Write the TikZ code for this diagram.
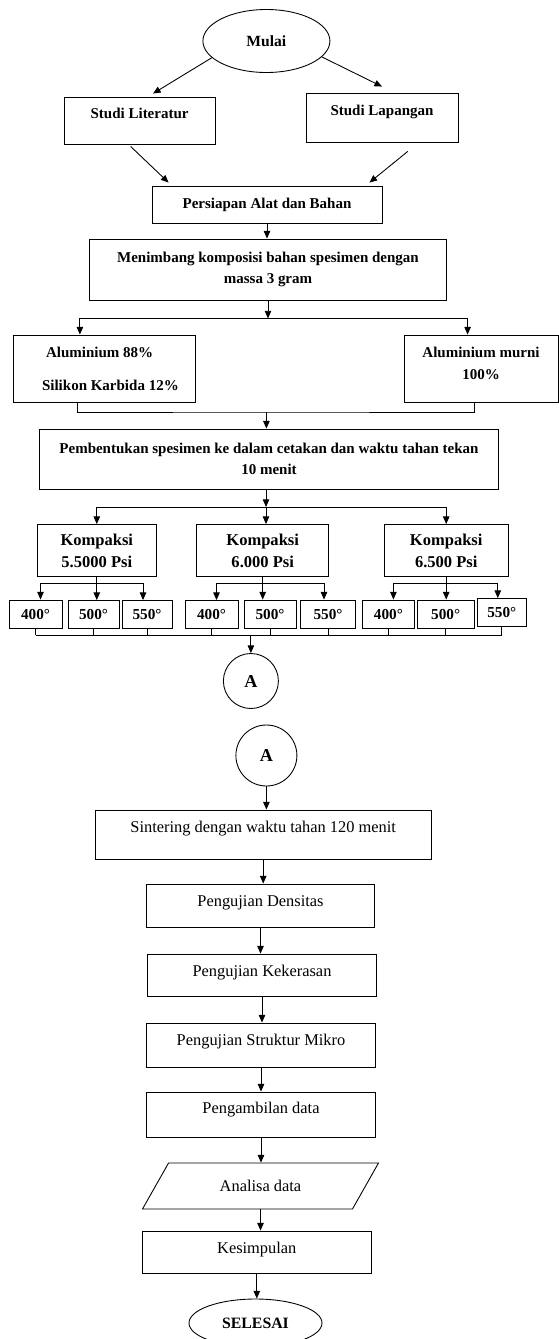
\documentclass[tikz,border=0pt]{standalone}
\usepackage{fontspec}
\setmainfont{Liberation Serif}
\usepackage{tikz}
\usetikzlibrary{positioning,calc,shapes,arrows.meta}
\newcommand{\pxu}{0.03cm}

\begin{document}
\begin{tikzpicture}[x=0.03cm, y=-0.03cm, line width=0.75pt,
	kotak/.style 2 args={draw, rectangle, minimum width=#1*\pxu, minimum height=#2*\pxu, inner sep=0pt, align=center},
	tebal/.style={font=\fontsize{12.8}{18.5}\selectfont\bfseries},
	biasa/.style={font=\fontsize{14}{16}\selectfont},
	suhu/.style={kotak={#1}{28}, font=\fontsize{13}{14}\selectfont\bfseries},
	kompaksi/.style={kotak={#1}{52}, font=\fontsize{14.1}{18.8}\selectfont\bfseries},
	panah/.style={-{Triangle[length=6.5pt,width=5.5pt]}}]
	\useasboundingbox (0,0) rectangle (559,1339);

	\node[ellipse, draw, minimum width=127*\pxu, minimum height=63*\pxu, inner sep=0pt, font=\fontsize{13.3}{16}\selectfont\bfseries] (mulai) at (266.4,41) {Mulai};
	\node[kotak={151}{47}, tebal, text depth=12.8pt] (lit) at (139.6,120.5) {Studi Literatur};
	\node[kotak={152}{49}, tebal, text depth=12.8pt] (lap) at (382,117.5) {Studi Lapangan};
	\node[kotak={230}{37}, tebal] (alat) at (267,204.5) {Persiapan Alat dan Bahan};
	\node[kotak={357}{61}, tebal] (men) at (268,269.5) {Menimbang komposisi bahan spesimen dengan\\massa 3 gram};
	\node[kotak={182}{67}, align=left, font=\fontsize{12.8}{28}\selectfont\bfseries] (al88) at (104.9,368.5) {\hspace*{12.8pt}Aluminium 88\%\\\hspace*{9.4pt}Silikon Karbida 12\%};
	\node[kotak={154}{67}, tebal, text depth=9.4pt] (murni) at (481,368.5) {Aluminium murni\\100\%};
	\node[kotak={459}{60}, tebal] (bentuk) at (269,459) {Pembentukan spesimen ke dalam cetakan dan waktu tahan tekan\\10 menit};

	\node[kompaksi=119] (k1) at (96.8,550.5) {Kompaksi\\5.5000 Psi};
	\node[kompaksi=132] (k2) at (262.7,550.5) {Kompaksi\\6.000 Psi};
	\node[kompaksi=124] (k3) at (446.2,550.5) {Kompaksi\\6.500 Psi};

	\node[suhu=53] (t1a) at (35.5,614) {400°};
	\node[suhu=51] (t1b) at (93.5,614.5) {500°};
	\node[suhu=50] (t1c) at (147,614.5) {550°};
	\node[suhu=53] (t2a) at (211.5,614.5) {400°};
	\node[suhu=52] (t2b) at (270,614) {500°};
	\node[suhu=54.5] (t2c) at (328,614) {550°};
	\node[suhu=51.4] (t3a) at (388.4,614) {400°};
	\node[suhu=56.7] (t3b) at (445.7,614) {500°};
	\node[suhu=49.2] (t3c) at (501.8,612.5) {550°};

	\node[circle, draw, minimum size=55*\pxu, inner sep=0pt, font=\fontsize{15.5}{17}\selectfont\bfseries] (A1) at (250.9,681) {A};
	\node[circle, draw, minimum size=61*\pxu, inner sep=0pt, font=\fontsize{15.5}{17}\selectfont\bfseries] (A2) at (266.4,755.5) {A};

	\node[kotak={336}{49}, biasa, text depth=13pt] (sinter) at (263.2,834.5) {Sintering dengan waktu tahan 120 menit};
	\node[kotak={228}{43}, biasa, text depth=7.9pt] (dens) at (260.5,905.5) {Pengujian Densitas};
	\node[kotak={229}{42}, biasa, text depth=7pt] (keras) at (262,975) {Pengujian Kekerasan};
	\node[kotak={229}{44}, biasa, text depth=8.8pt] (mikro) at (261,1045) {Pengujian Struktur Mikro};
	\node[kotak={229}{45}, biasa, text depth=11.3pt] (ambil) at (261,1114.5) {Pengambilan data};
	\node[trapezium, draw, trapezium left angle=45, trapezium right angle=135, trapezium stretches=true, minimum width=236*\pxu, minimum height=46*\pxu, inner sep=0pt, biasa] (analisa) at (260.5,1186) {Analisa data};
	\node[kotak={229}{42}, biasa, text depth=7pt] (kesim) at (256.8,1252) {Kesimpulan};
	\node[ellipse, draw, minimum width=133*\pxu, minimum height=48*\pxu, inner sep=0pt, font=\fontsize{13.5}{15}\selectfont\bfseries] (selesai) at (255.5,1323) {SELESAI};

	\draw[panah] (mulai.197) -- ($(lit.north)+(13.4,-3)$);
	\draw[panah] (mulai.344) -- ($(lap.north)+(0,-6)$);
	\draw[panah] ($(lit.south)+(-9,2)$) -- ($(alat.north west)+(17,-3)$);
	\draw[panah] ($(lap.south)+(25.7,9)$) -- ($(alat.north east)+(-13,-3)$);
	\draw[panah] (alat.south) -- (alat.south |- men.north);

	\coordinate (b1) at ($(men.south)+(0,18)$);
	\draw[panah] (men.south) -- (b1);
	\draw[panah] (b1) -| ($(al88.north)+(-25,0)$);
	\draw[panah] (b1) -| ($(murni.north)+(-13.4,0)$);

	\coordinate (b2) at (266.4,412);
	\draw ($(al88.south)+(-27,0)$) |- (b2) -| ($(murni.south)+(-7,0)$);
	\draw[panah] (b2) -- (b2 |- bentuk.north);

	\coordinate (b3) at (266,507);
	\draw[panah] (b3 |- bentuk.south) -- (b3);
	\draw[panah] (b3) -- (b3 |- k2.north);
	\draw[panah] (b3) -| (k1.north);
	\draw[panah] (b3) -| (k3.north);

	\foreach \k/\a/\b/\c in {k1/t1a/t1b/t1c, k2/t2a/t2b/t2c, k3/t3a/t3b/t3c} {
		\coordinate (d\k) at ($(\k.south)+(0,6)$);
		\draw[panah] (\k.south) -- (\k.south |- \b.north);
		\draw[panah] (d\k) -| ($(\a.north)+(5,0)$);
		\draw[panah] (d\k) -| ($(\c.north)+(-4,0)$);
	}

	\coordinate (e1) at (250.9,635);
	\foreach \t in {t1a,t1b,t1c,t2a,t2b,t2c,t3a,t3b,t3c}
		\draw (\t.south) -- (\t.south |- e1);
	\draw (t1a.south |- e1) -- (t3c.south |- e1);
	\draw[panah] (e1) -- (A1.north);

	\draw[panah] (A2.south) -- (A2.south |- sinter.north);
	\draw[panah] (sinter.south) -- (sinter.south |- dens.north);
	\draw[panah] (dens.south) -- (dens.south |- keras.north);
	\draw[panah] (keras.south) -- (keras.south |- mikro.north);
	\draw[panah] (mikro.south) -- (mikro.south |- ambil.north);
	\draw[panah] (ambil.south) -- (ambil.south |- analisa.north);
	\draw[panah] (analisa.south) -- (analisa.south |- kesim.north);
	\draw[panah] (kesim.south) -- (kesim.south |- selesai.north);
\end{tikzpicture}
\end{document}
